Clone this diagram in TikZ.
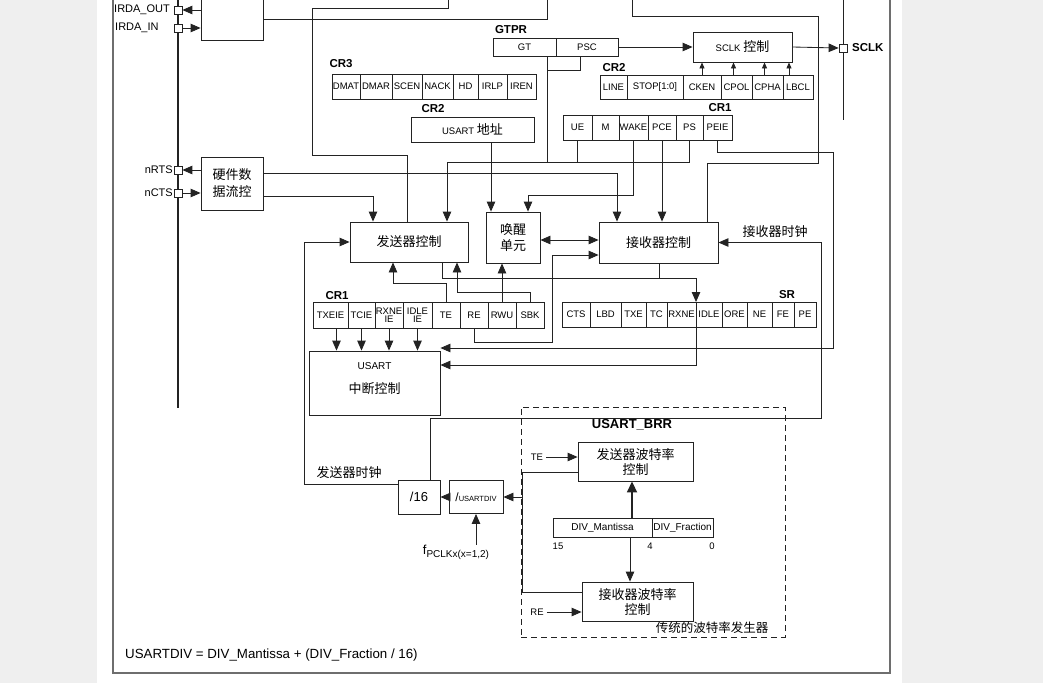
\documentclass[tikz,border=0pt]{standalone}
\usepackage{fontspec}
\setmainfont{Liberation Sans}
\newfontfamily\cjk{Noto Sans CJK SC}
\usetikzlibrary{arrows.meta}
\definecolor{bggray}{RGB}{239,239,239}
\definecolor{lncol}{RGB}{35,35,35}
\definecolor{framecol}{RGB}{110,110,110}
\newcommand{\myfs}[2]{\fontsize{#1}{#2}\selectfont}
\begin{document}
\begin{tikzpicture}[x=1pt,y=-1pt,
 wire/.style={draw=lncol, line width=0.85pt},
 arr/.style={wire, -{Triangle[length=10pt,width=8.5pt]}},
 sarr/.style={wire, -{Triangle[length=6pt,width=5pt]}},
 darr/.style={wire, {Triangle[length=10pt,width=8.5pt]}-{Triangle[length=10pt,width=8.5pt]}},
 tarr/.style={draw=lncol, line width=1.7pt, -{Triangle[length=11pt,width=10pt]}},
 box/.style={draw=lncol, line width=0.85pt, inner sep=0pt, align=center},
 zhbox/.style={box, font=\cjk\myfs{13}{16}},
 cell/.style={draw=lncol, line width=0.75pt, inner sep=0pt, outer sep=0pt, anchor=west, align=center, font=\myfs{9.5}{8.5}, minimum height=#1},
 cell/.default=25,
 pinbox/.style={draw=lncol, fill=white, line width=0.75pt, minimum size=8pt, inner sep=0pt},
 lbl/.style={inner sep=0pt, font=\myfs{11}{11}},
 blbl/.style={inner sep=0pt, font=\bfseries\myfs{11.5}{11.5}},
 zlbl/.style={inner sep=0pt, font=\cjk\myfs{13}{13}},
 slbl/.style={inner sep=0pt, font=\myfs{9.5}{9.5}},
]
\useasboundingbox (0,0) rectangle (1043,683);
\fill[bggray] (0,0) rectangle (1043,683);
\fill[white] (97,0) rectangle (902,683);
\clip (0,0) rectangle (1043,683);
\draw[draw=framecol, line width=1.2pt] (113,-2) -- (113,673) -- (890,673) -- (890,-2);

% buses
\draw[draw=lncol, line width=1.9pt] (178,-2) -- (178,408);
\draw[draw=lncol, line width=1pt] (843,-2) -- (843,120);

% pins
\node[pinbox] (pio) at (178,10) {};
\node[pinbox] (pii) at (178,28) {};
\node[pinbox] (prts) at (178,170) {};
\node[pinbox] (pcts) at (178,193) {};
\node[pinbox] (psclk) at (843,48) {};
\node[lbl, anchor=west] (lio) at (114,10) {IRDA\_OUT};
\node[lbl, anchor=west] (lii) at (115,28) {IRDA\_IN};
\node[lbl, anchor=east] (lrts) at (173,170) {nRTS};
\node[lbl, anchor=east] (lcts) at (173,193) {nCTS};
\node[blbl, anchor=west] (lsclk) at (852,48) {SCLK};

% main blocks
\node[box, minimum width=62, minimum height=52] (irda) at (232,14) {};
\node[zhbox, minimum width=62, minimum height=53, font=\cjk\myfs{13}{17}] (hw) at (232,183.5) {硬件数\\据流控};
\node[zhbox, minimum width=118, minimum height=40] (tx) at (409,242) {发送器控制};
\node[zhbox, minimum width=54, minimum height=51] (wk) at (513,237.5) {唤醒\\单元};
\node[zhbox, minimum width=119, minimum height=41] (rx) at (658.5,242.5) {接收器控制};
\node[box, minimum width=99, minimum height=30] (sc) at (742.5,47) {{\myfs{9.5}{9.5}SCLK} {\cjk\myfs{13}{13}控制}};
\node[box, minimum width=123, minimum height=25] (addr) at (472.5,129.5) {{\myfs{9.5}{9.5}USART} {\cjk\myfs{13}{13}地址}};
\node[box, minimum width=131, minimum height=64] (it) at (374.5,383) {};
\node[inner sep=0pt, font=\myfs{10}{10}] (itl1) at (374.5,366) {USART};
\node[inner sep=0pt, font=\cjk\myfs{13}{13}] (itl2) at (374.5,389) {中断控制};
\node[box, minimum width=42, minimum height=34, font=\myfs{13}{13}] (d16) at (419,497) {/16};
\node[box, minimum width=54, minimum height=33] (ud) at (476,497) {{\myfs{12}{12}/}{\myfs{7.5}{7.5}USARTDIV}};
\node[inner sep=0pt] (fp) at (456,552) {{\myfs{13}{13}f}\raisebox{-3pt}{\myfs{10}{10}PCLKx(x=1,2)}};

% GTPR
\node[blbl] (lgtpr) at (511,30) {GTPR};
\node[cell=18, minimum width=63] (gt) at (493,47) {GT};
\node[cell=18, minimum width=62] (psc) at (gt.east) {PSC};

% CR3
\node[blbl] (lcr3) at (341,64) {CR3};
\node[cell, minimum width=28] (dmat) at (332,86.5) {DMAT};
\node[cell, minimum width=32] (dmar) at (dmat.east) {DMAR};
\node[cell, minimum width=30] (scen) at (dmar.east) {SCEN};
\node[cell, minimum width=31] (nack) at (scen.east) {NACK};
\node[cell, minimum width=25] (hd) at (nack.east) {HD};
\node[cell, minimum width=29] (irlp) at (hd.east) {IRLP};
\node[cell, minimum width=29] (iren) at (irlp.east) {IREN};

% CR2 address
\node[blbl] (lcr2a) at (433,109) {CR2};

% CR2 right
\node[blbl] (lcr2b) at (614,68) {CR2};
\node[cell=24, minimum width=27] (line) at (600,87) {LINE};
\node[cell=24, minimum width=56] (stop) at (line.east) {STOP[1:0]};
\node[cell=24, minimum width=38] (cken) at (stop.east) {CKEN};
\node[cell=24, minimum width=31] (cpol) at (cken.east) {CPOL};
\node[cell=24, minimum width=31] (cpha) at (cpol.east) {CPHA};
\node[cell=24, minimum width=30] (lbcl) at (cpha.east) {LBCL};

% CR1 top
\node[blbl] (lcr1a) at (720,108) {CR1};
\node[cell, minimum width=29] (ue) at (563,127.5) {UE};
\node[cell, minimum width=27] (mm) at (ue.east) {M};
\node[cell, minimum width=29] (wake) at (mm.east) {WAKE};
\node[cell, minimum width=28] (pce) at (wake.east) {PCE};
\node[cell, minimum width=27] (ps) at (pce.east) {PS};
\node[cell, minimum width=29] (peie) at (ps.east) {PEIE};

% CR1 bottom
\node[blbl] (lcr1b) at (337,296) {CR1};
\node[cell=26, minimum width=35] (txeie) at (313,315) {TXEIE};
\node[cell=26, minimum width=27] (tcie) at (txeie.east) {TCIE};
\node[cell=26, minimum width=28] (rxneie) at (tcie.east) {RXNE\\IE};
\node[cell=26, minimum width=29] (idleie) at (rxneie.east) {IDLE\\IE};
\node[cell=26, minimum width=28] (te) at (idleie.east) {TE};
\node[cell=26, minimum width=28] (re) at (te.east) {RE};
\node[cell=26, minimum width=28] (rwu) at (re.east) {RWU};
\node[cell=26, minimum width=28] (sbk) at (rwu.east) {SBK};

% SR
\node[blbl] (lsr) at (787,295) {SR};
\node[cell, minimum width=28] (cts) at (562,314.5) {CTS};
\node[cell, minimum width=31] (lbd) at (cts.east) {LBD};
\node[cell, minimum width=25] (txe) at (lbd.east) {TXE};
\node[cell, minimum width=21] (tc) at (txe.east) {TC};
\node[cell, minimum width=29] (rxne) at (tc.east) {RXNE};
\node[cell, minimum width=26] (idle) at (rxne.east) {IDLE};
\node[cell, minimum width=25] (ore) at (idle.east) {ORE};
\node[cell, minimum width=25] (ne) at (ore.east) {NE};
\node[cell, minimum width=22] (fe) at (ne.east) {FE};
\node[cell, minimum width=22] (pe) at (fe.east) {PE};

% BRR
\node[draw=lncol, dash pattern=on 6pt off 4pt, line width=0.85pt, minimum width=264, minimum height=230, inner sep=0pt] (brr) at (653,522) {};
\node[inner sep=0pt, font=\bfseries\myfs{13}{13}] (lbrr) at (632,425) {USART\_BRR};
\node[zhbox, minimum width=115, minimum height=39, font=\cjk\myfs{13}{15}] (txb) at (635.5,461.5) {发送器波特率\\控制};
\node[zhbox, minimum width=111, minimum height=39, font=\cjk\myfs{13}{15}] (rxb) at (637.5,601.5) {接收器波特率\\控制};
\node[slbl] (lte) at (537,457) {TE};
\node[slbl] (lre) at (537,612) {RE};
\node[cell=19, minimum width=99, font=\myfs{10}{10}] (mant) at (553,527.5) {DIV\_Mantissa};
\node[cell=19, minimum width=61, font=\myfs{10}{10}] (frac) at (mant.east) {DIV\_Fraction};
\node[slbl] (b15) at (558,546) {15};
\node[slbl] (b4) at (650,546) {4};
\node[slbl] (b0) at (712,546) {0};
\node[inner sep=0pt, font=\cjk\myfs{12.5}{12.5}] (lgen) at (712,628) {传统的波特率发生器};

% free labels
\node[zlbl] (ltxclk) at (349,473) {发送器时钟};
\node[zlbl] (lrxclk) at (775,232) {接收器时钟};
\node[inner sep=0pt, font=\myfs{13.3}{13.3}, anchor=west] (formula) at (125,655) {USARTDIV = DIV\_Mantissa + (DIV\_Fraction / 16)};

% helper coordinates
\coordinate (top1) at (448,0);
\coordinate (top2) at (547,0);
\coordinate (top3) at (632,0);
\coordinate (cpolc) at ([xshift=-3pt]cpol.north);
\coordinate (cphac) at ([xshift=-3pt]cpha.north);
\coordinate (lbclc) at ([xshift=-9pt]lbcl.north);
\coordinate (txeiec) at ([xshift=6pt]txeie.south);

% pin connections
\draw[arr] (irda.west |- pio) -- (pio.east);
\draw[arr] (pii.east) -- (irda.west |- pii);
\draw[arr] (hw.west |- prts) -- (prts.east);
\draw[arr] (pcts.east) -- (hw.west |- pcts);
\draw[arr] (sc.east) -- (psclk.west);
\draw[arr] (psc.east) -- (sc.west);

% CR2 -> SCLK
\draw[sarr] (cken.north) -- (cken.north |- sc.south);
\draw[sarr] (cpolc) -- (cpolc |- sc.south);
\draw[sarr] (cphac) -- (cphac |- sc.south);
\draw[sarr] (lbclc) -- (lbclc |- sc.south);

% top loops
\draw[wire] (irda.east |- 0,19) -- (547,19) -- (top2);
\draw[wire] (407,0 |- tx.north) -- (407,155) -- (312,155) -- (312,8) -- (448,8) -- (top1);
\draw[wire] (707,0 |- rx.north) -- (707,163) -- (818,163) -- (818,16) -- (632,16) -- (top3);

% GTPR / CR1 -> TX
\draw[wire] (547,0 |- gt.south) -- (547,162);
\draw[wire] (580,0 |- psc.south) -- (580,70) -- (547,70);
\draw[wire] (ue.south) -- (ue.south |- 0,162);
\draw[arr] (ps.south) -- (ps.south |- 0,162) -- (447,162) -- (447,0 |- tx.north);

% address, wake, pce
\draw[arr] (491,0 |- addr.south) -- (491,0 |- wk.north);
\draw[arr] (wake.south) -- (wake.south |- 0,195) -- (528,195) -- (528,0 |- wk.north);
\draw[arr] (pce.south) -- (pce.south |- rx.north);

% flow control
\draw[arr] (hw.east |- 0,173) -- (617,173) -- (617,0 |- rx.north);
\draw[arr] (hw.east |- 0,196) -- (373,196) -- (373,0 |- tx.north);

% wake <-> rx, RE -> rx
\draw[darr] (wk.east |- 0,240) -- (rx.west |- 0,240);
\draw[arr] (re.south) -- (re.south |- 0,342) -- (552,342) -- (552,255) -- (rx.west |- 0,255);

% CR1 bottom -> TX / wake
\draw[arr] (te.north) -- (te.north |- 0,283) -- (393,283) -- (393,0 |- tx.south);
\draw[arr] (sbk.north) -- (sbk.north |- 0,292) -- (457,292) -- (457,0 |- tx.south);
\draw[arr] (rwu.north) -- (rwu.north |- wk.south);

% TX/RX -> SR
\draw[wire] (442,0 |- tx.south) -- (442,278) -- (659,278);
\draw[arr] (659,0 |- rx.south) -- (659,278) -- (696,278) -- (rxne.north east);

% interrupts
\draw[arr] (txeiec) -- (txeiec |- it.north);
\draw[arr] (tcie.south) -- (tcie.south |- it.north);
\draw[arr] (rxneie.south) -- (rxneie.south |- it.north);
\draw[arr] (idleie.south) -- (idleie.south |- it.north);
\draw[arr] (peie.south) -- (peie.south |- 0,152) -- (833,152) -- (833,348) -- (it.east |- 0,348);
\draw[arr] (rxne.south east) -- (696,365) -- (it.east |- 0,365);

% clocks
\draw[arr] (430,0 |- d16.north) -- (430,418) -- (821,418) -- (821,0 |- rx.east) -- (rx.east);
\draw[arr] (d16.west |- 0,484) -- (304,484) -- (304,0 |- tx.west) -- (tx.west);
\draw[arr] (ud.west) -- (d16.east);
\draw[arr] (ud.south |- fp.north) -- (ud.south);
\draw[arr] (522,0 |- ud.east) -- (ud.east);
\draw[wire] (txb.west |- 0,472) -- (522,472) -- (522,592) -- (rxb.west |- 0,592);

% BRR internal
\draw[arr] ([xshift=3pt]lte.east) -- (txb.west |- lte.east);
\draw[arr] ([xshift=3pt]lre.east) -- (rxb.west |- lre.east);
\draw[tarr] (632,0 |- mant.north) -- (632,0 |- txb.south);
\draw[arr] (630,0 |- mant.south) -- (630,0 |- rxb.north);
\end{tikzpicture}
\end{document}
